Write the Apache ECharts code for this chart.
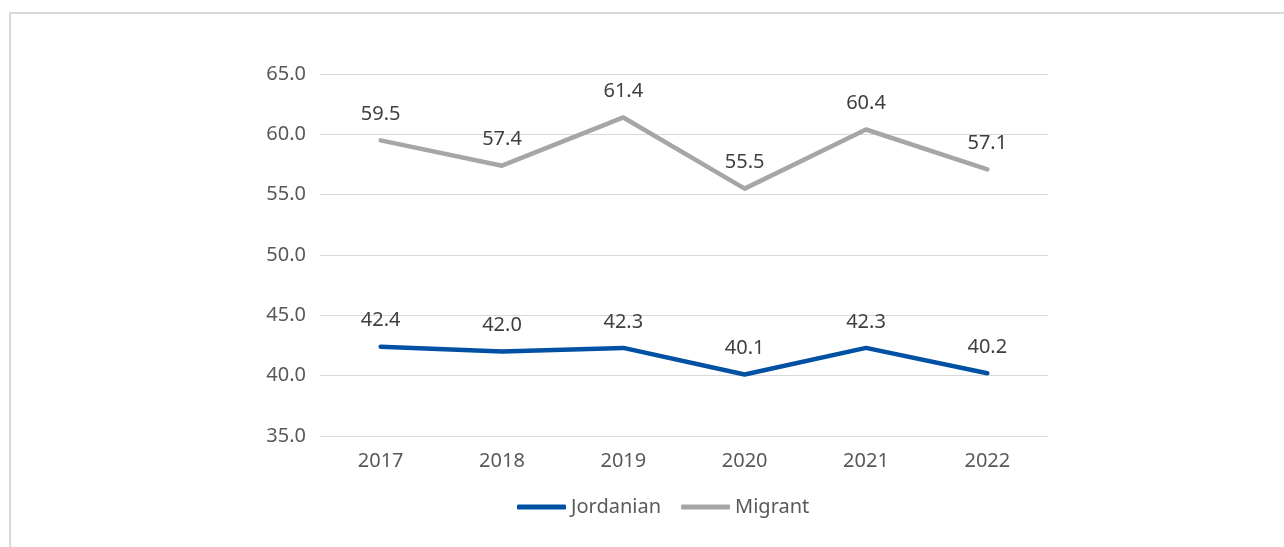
<!DOCTYPE html>
<html>
<head>
<meta charset="utf-8">
<script src="https://cdn.jsdelivr.net/npm/echarts@6/dist/echarts.min.js"></script>
<style>
  html, body { margin: 0; padding: 0; background: #fff; }
  #chart { width: 1284px; height: 547px; }
</style>
</head>
<body>
<div id="chart"></div>
<script>
// Year categories along the x axis
const years = ['2017', '2018', '2019', '2020', '2021', '2022'];
// Series values per year
const jordanian = [42.4, 42.0, 42.3, 40.1, 42.3, 40.2];
const migrant = [59.5, 57.4, 61.4, 55.5, 60.4, 57.1];
// Value axis range and step
const yMin = 35;
const yMax = 65;
const yStep = 5;

const FONT = '"Noto Sans", "Open Sans", sans-serif';
const TEXT = '#595959';
const FS = 20;

const chart = echarts.init(document.getElementById('chart'), null, { renderer: 'canvas' });

function lineSeries(name, data, color) {
  return {
    name: name,
    type: 'line',
    data: data,
    // tiny symbols hidden under the stroke so the value labels are drawn
    symbol: 'circle',
    symbolSize: 2,
    showSymbol: true,
    smooth: false,
    lineStyle: { color: color, width: 4.5, cap: 'round', join: 'round' },
    itemStyle: { color: color },
    label: {
      show: true,
      position: 'top',
      distance: 15,
      color: '#404040',
      fontFamily: FONT,
      fontSize: FS,
      formatter: p => p.value.toFixed(1)
    },
    emphasis: { disabled: true }
  };
}

chart.setOption({
  animation: false,
  backgroundColor: '#ffffff',
  graphic: [{
    type: 'rect',
    shape: { x: 10, y: 13, width: 1290, height: 560 },
    style: { fill: 'none', stroke: '#d9d9d9', lineWidth: 2 },
    silent: true,
    z: -10
  }],
  grid: { left: 320, right: 236, top: 74, bottom: 111, containLabel: false },
  legend: {
    top: 492,
    left: 512,
    icon: 'roundRect',
    itemWidth: 49,
    itemHeight: 5,
    itemGap: 20,
    textStyle: { color: TEXT, fontFamily: FONT, fontSize: FS },
    data: ['Jordanian', 'Migrant']
  },
  xAxis: {
    type: 'category',
    data: years,
    boundaryGap: true,
    axisLine: { show: false },
    axisTick: { show: false },
    axisLabel: { color: TEXT, fontFamily: FONT, fontSize: FS, margin: 15 }
  },
  yAxis: {
    type: 'value',
    min: yMin,
    max: yMax,
    interval: yStep,
    axisLine: { show: false },
    axisTick: { show: false },
    splitLine: { lineStyle: { color: '#d9d9d9', width: 1 } },
    axisLabel: {
      color: TEXT,
      fontFamily: FONT,
      fontSize: FS,
      margin: 14,
      formatter: v => v.toFixed(1)
    }
  },
  series: [
    lineSeries('Jordanian', jordanian, '#0051a3'),
    lineSeries('Migrant', migrant, '#a6a6a6')
  ]
});
</script>
</body>
</html>
